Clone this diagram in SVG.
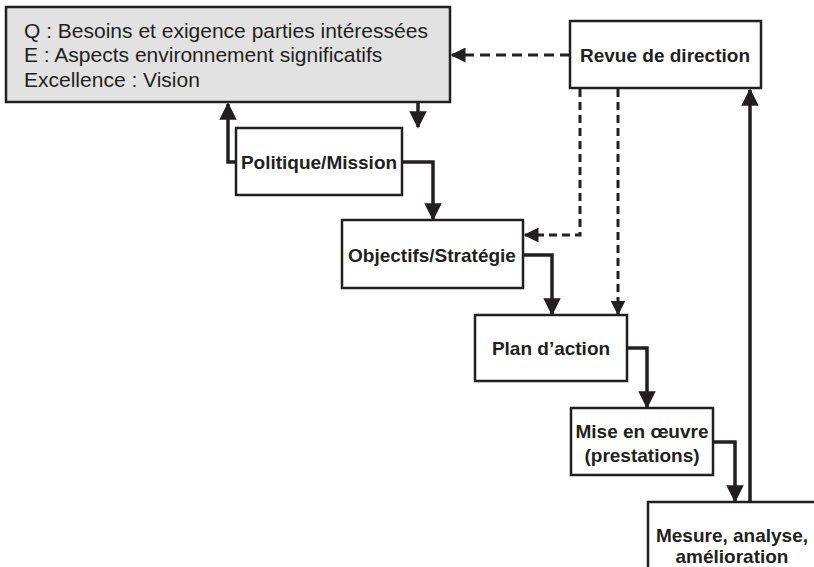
<svg xmlns="http://www.w3.org/2000/svg" width="814" height="567" viewBox="0 0 814 567">
<style>
.box{fill:#fff;stroke:#231f20;stroke-width:2.5}
.grey{fill:#e2e2e2;stroke:#231f20;stroke-width:2.5}
.t{font-family:"Liberation Sans",Arial,sans-serif;font-size:21px;fill:#231f20}
.b{font-family:"Liberation Sans",Arial,sans-serif;font-size:19px;font-weight:bold;fill:#231f20;text-anchor:middle}
.c{fill:none;stroke:#231f20;stroke-width:3.5}
.d{fill:none;stroke:#231f20;stroke-width:3;stroke-dasharray:10 6}
.dv{fill:none;stroke:#231f20;stroke-width:3;stroke-dasharray:8 5}
</style>
<defs>
<marker id="ah" markerWidth="5" markerHeight="5" refX="4.5" refY="2.5" orient="auto" markerUnits="strokeWidth" viewBox="0 0 5 5">
<path d="M0,0 L5,2.5 L0,5 Z" fill="#231f20"/>
</marker>
<marker id="ahd" markerWidth="5" markerHeight="5" refX="4.5" refY="2.5" orient="auto" markerUnits="strokeWidth" viewBox="0 0 5 5">
<path d="M0,0 L5,2.5 L0,5 Z" fill="#231f20"/>
</marker>
</defs>
<g id="connectors">
<path class="d" d="M570,55 H452" marker-end="url(#ahd)"/>
<path class="c" d="M418,87 V127" marker-end="url(#ah)"/>
<path class="c" d="M236,162 H228 V104" marker-end="url(#ah)"/>
<path class="c" d="M402,162 H433 V219" marker-end="url(#ah)"/>
<path class="dv" d="M580,89 V235 H525" marker-end="url(#ahd)"/>
<path class="c" d="M523,255 H552 V314" marker-end="url(#ah)"/>
<path class="dv" d="M618,89 V314" marker-end="url(#ahd)"/>
<path class="c" d="M627,348 H647 V407" marker-end="url(#ah)"/>
<path class="c" d="M713,442 H735 V501" marker-end="url(#ah)"/>
<path class="c" d="M750,502 V90" marker-end="url(#ah)"/>
</g>
<g id="top">
<rect class="grey" x="6" y="7" width="444" height="95"/>
<text class="t" x="24" y="38">Q : Besoins et exigence parties intéressées</text>
<text class="t" x="24" y="62">E : Aspects environnement significatifs</text>
<text class="t" x="24" y="87">Excellence : Vision</text>
</g>
<g id="revue">
<rect class="box" x="570" y="21" width="191" height="67"/>
<text class="b" x="665" y="62">Revue de direction</text>
</g>
<g id="politique">
<rect class="box" x="236" y="128" width="166" height="67"/>
<text class="b" x="319" y="169">Politique/Mission</text>
</g>
<g id="objectifs">
<rect class="box" x="342" y="220" width="181" height="68"/>
<text class="b" x="432" y="262">Objectifs/Stratégie</text>
</g>
<g id="plan">
<rect class="box" x="475" y="315" width="152" height="66"/>
<text class="b" x="551" y="355">Plan d’action</text>
</g>
<g id="mise">
<rect class="box" x="571" y="408" width="142" height="67"/>
<text class="b" x="642" y="438">Mise en œuvre</text>
<text class="b" x="642" y="462">(prestations)</text>
</g>
<g id="mesure">
<rect class="box" x="648" y="502" width="180" height="80"/>
<text class="b" x="732" y="542">Mesure, analyse,</text>
<text class="b" x="732" y="563">amélioration</text>
</g>
</svg>
